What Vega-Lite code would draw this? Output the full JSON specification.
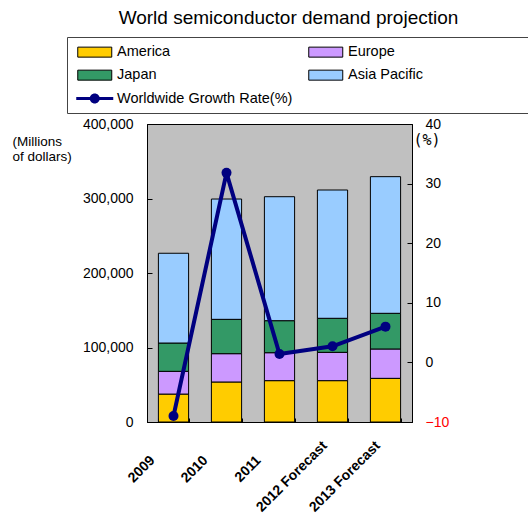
{
  "$schema": "https://vega.github.io/schema/vega-lite/v6.json",
  "width": 265,
  "height": 298,
  "autosize": {"type": "none"},
  "padding": {"left": 147, "top": 124, "right": 116, "bottom": 95},
  "background": "white",
  "title": {
    "text": "World semiconductor demand projection",
    "font": "Liberation Sans",
    "fontSize": 19,
    "fontWeight": "normal",
    "color": "#000000",
    "anchor": "middle",
    "frame": "group",
    "dx": 9,
    "offset": 9
  },
  "config": {
    "view": {"fill": "#c0c0c0", "stroke": "#000000", "strokeWidth": 1},
    "axis": {
      "domainColor": "#000000",
      "tickColor": "#000000",
      "labelColor": "#000000",
      "titleColor": "#000000",
      "grid": false
    }
  },
  "layer": [
    {
      "data": {
        "values": [
          {"year": "2009", "region": "America", "sales": 37500},
          {"year": "2009", "region": "Europe", "sales": 30500},
          {"year": "2009", "region": "Japan", "sales": 38000},
          {"year": "2009", "region": "Asia Pacific", "sales": 120500},
          {"year": "2010", "region": "America", "sales": 53700},
          {"year": "2010", "region": "Europe", "sales": 38000},
          {"year": "2010", "region": "Japan", "sales": 46100},
          {"year": "2010", "region": "Asia Pacific", "sales": 161500},
          {"year": "2011", "region": "America", "sales": 55500},
          {"year": "2011", "region": "Europe", "sales": 37500},
          {"year": "2011", "region": "Japan", "sales": 43000},
          {"year": "2011", "region": "Asia Pacific", "sales": 166400},
          {"year": "2012 Forecast", "region": "America", "sales": 55500},
          {"year": "2012 Forecast", "region": "Europe", "sales": 38000},
          {"year": "2012 Forecast", "region": "Japan", "sales": 45700},
          {"year": "2012 Forecast", "region": "Asia Pacific", "sales": 172200},
          {"year": "2013 Forecast", "region": "America", "sales": 58600},
          {"year": "2013 Forecast", "region": "Europe", "sales": 39400},
          {"year": "2013 Forecast", "region": "Japan", "sales": 47900},
          {"year": "2013 Forecast", "region": "Asia Pacific", "sales": 183400}
        ]
      },
      "transform": [
        {"calculate": "indexof(['America', 'Europe', 'Japan', 'Asia Pacific'], datum.region)", "as": "stack_order"}
      ],
      "mark": {"type": "bar", "stroke": "#000000"},
      "encoding": {
        "x": {
          "field": "year",
          "type": "nominal",
          "sort": null,
          "scale": {"paddingInner": 0.43, "paddingOuter": 0.215},
          "axis": {
            "title": null,
            "labelAngle": -45,
            "labelAlign": "right",
            "labelBaseline": "middle",
            "labelFont": "Liberation Sans",
            "labelFontSize": 14,
            "labelFontWeight": "bold",
            "labelLimit": 300,
            "labelOffset": {"expr": "-27.1 + 1.47 * length(datum.label)"},
            "labelPadding": {"expr": "46.3 - 1.62 * length(datum.label)"},
            "tickBand": "extent",
            "tickSize": -4
          }
        },
        "y": {
          "field": "sales",
          "type": "quantitative",
          "stack": "zero",
          "scale": {"domain": [0, 400000], "nice": false},
          "axis": {
            "orient": "left",
            "values": [0, 100000, 200000, 300000, 400000],
            "format": ",d",
            "labelFont": "Liberation Sans",
            "labelFontSize": 14,
            "labelPadding": 19,
            "tickSize": -5,
            "title": ["(Millions", "of dollars)"],
            "titleFont": "Liberation Sans",
            "titleFontSize": 13.5,
            "titleFontWeight": "normal",
            "titleAngle": 0,
            "titleAlign": "left",
            "titleBaseline": "top",
            "titleLineHeight": 15,
            "titleX": -135,
            "titleY": 10
          }
        },
        "order": {"field": "stack_order", "type": "quantitative", "sort": "ascending"},
        "fill": {
          "field": "region",
          "type": "nominal",
          "scale": {
            "domain": ["America", "Japan", "Worldwide Growth Rate(%)", "Europe", "Asia Pacific"],
            "range": ["#ffcc00", "#339966", "#000080", "#cc99ff", "#99ccff"]
          },
          "legend": {
            "title": "\u00a0",
            "titleOrient": "right",
            "titlePadding": 110,
            "orient": "none",
            "legendX": -80,
            "legendY": -87,
            "columns": 2,
            "columnPadding": 13,
            "rowPadding": 7.4,
            "padding": 7.5,
            "strokeColor": "#444444",
            "fillColor": "#ffffff",
            "symbolSize": 256,
            "symbolOffset": 13,
            "labelOffset": 15,
            "labelFont": "Liberation Sans",
            "labelFontSize": 14.5,
            "labelColor": "#000000",
            "labelLimit": 300,
            "symbolOpacity": 1,
            "symbolType": {"expr": "datum.value === 'Worldwide Growth Rate(%)' ? 'M-2.3125,-0.1875H2.3125V0.1875H-2.3125Z M-0.625,0A0.625,0.625 0 1,1 0.625,0A0.625,0.625 0 1,1 -0.625,0Z' : 'M-2.125,-0.625H2.125V0.625H-2.125Z'"},
            "symbolStrokeColor": {"expr": "datum.value === 'Worldwide Growth Rate(%)' ? '#000080' : '#000000'"},
            "symbolStrokeWidth": {"expr": "datum.value === 'Worldwide Growth Rate(%)' ? 0 : 1"}
          }
        }
      }
    },
    {
      "data": {
        "values": [
          {"year": "2009", "growth": -9.0},
          {"year": "2010", "growth": 31.8},
          {"year": "2011", "growth": 1.4},
          {"year": "2012 Forecast", "growth": 2.7},
          {"year": "2013 Forecast", "growth": 6.0}
        ]
      },
      "encoding": {
        "x": {"field": "year", "type": "nominal", "sort": null},
        "y": {
          "field": "growth",
          "type": "quantitative",
          "scale": {"domain": [-10, 40], "nice": false},
          "axis": {
            "orient": "right",
            "values": [-10, 0, 10, 20, 30, 40],
            "labelFont": "Liberation Sans",
            "labelFontSize": 14,
            "labelPadding": 18,
            "labelColor": {"expr": "datum.value < 0 ? '#ff0000' : '#000000'"},
            "tickSize": -5,
            "title": "(%)",
            "titleFont": "DejaVu Sans Mono",
            "titleFontSize": 15,
            "titleFontWeight": "normal",
            "titleAngle": 0,
            "titleAlign": "left",
            "titleBaseline": "middle",
            "titleX": 1,
            "titleY": 15.5
          }
        }
      },
      "layer": [
        {"mark": {"type": "line", "color": "#000080", "strokeWidth": 4}},
        {
          "mark": {"type": "point", "filled": true, "size": 100, "opacity": 1},
          "encoding": {"fill": {"datum": "Worldwide Growth Rate(%)"}}
        }
      ]
    }
  ],
  "resolve": {"scale": {"y": "independent"}}
}
